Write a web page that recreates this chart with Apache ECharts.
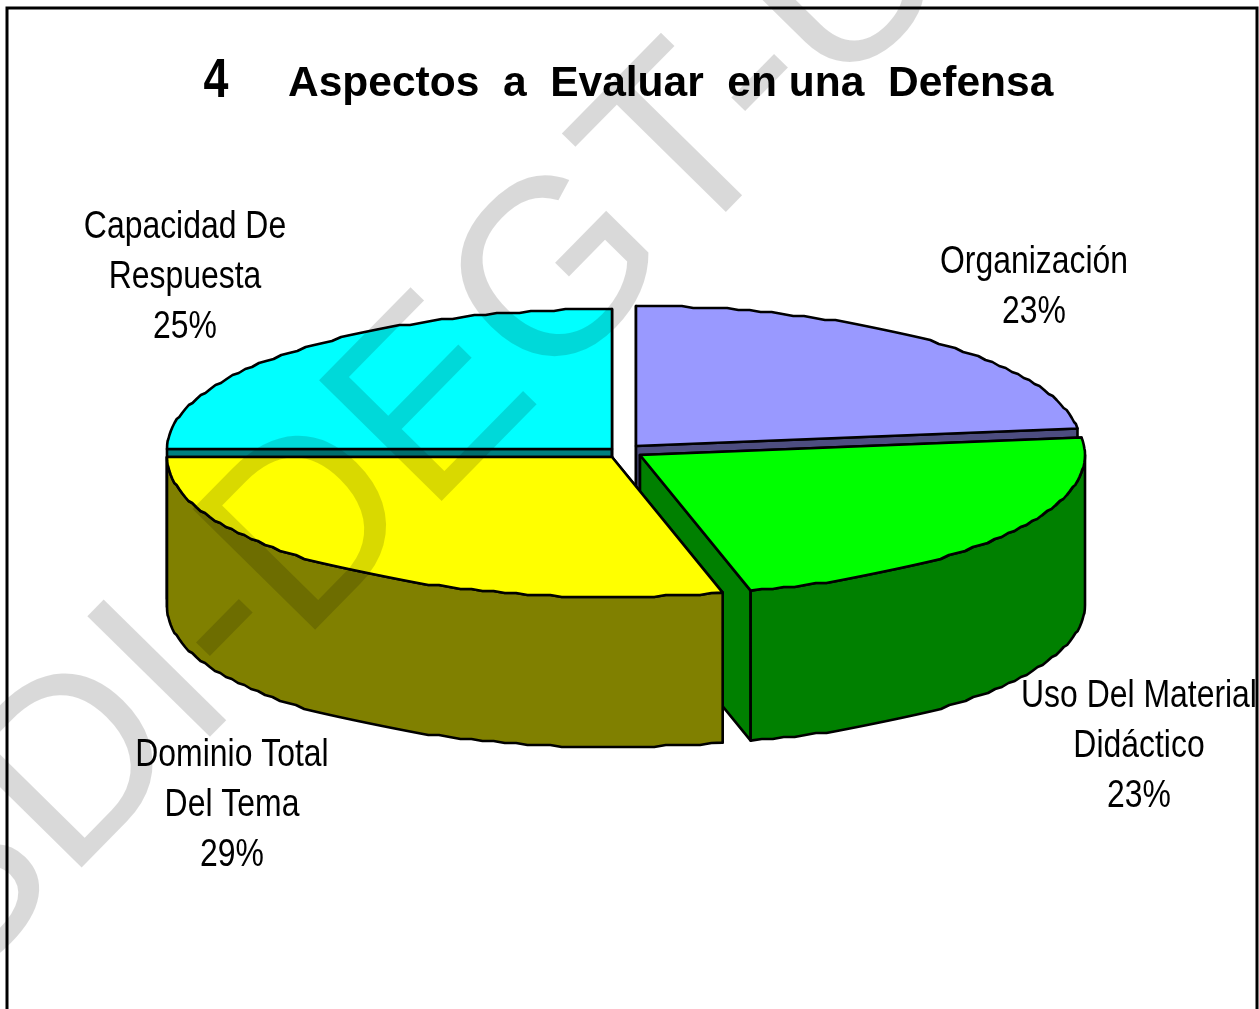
<!DOCTYPE html>
<html>
<head>
<meta charset="utf-8">
<style>html,body{margin:0;padding:0;background:#fff}#c{width:1259px;height:1009px}</style>
<script src="https://cdn.jsdelivr.net/npm/echarts@6/dist/echarts.min.js"></script>
</head>
<body>
<div id="c"></div>
<script>
// --- data ---
var categories = ['Organización', 'Uso Del Material\nDidáctico', 'Dominio Total\nDel Tema', 'Capacidad De\nRespuesta'];
var values = [23, 23, 29, 25];
var titleNumber = '4';
var titleText = 'Aspectos  a  Evaluar  en una  Defensa';
var watermarkText = 'SDI-DEGT-U';

// --- styles ---
var topColors = ['#9999ff', '#00ff00', '#ffff00', '#00ffff'];
var sideColors = ['#4d4d80', '#008000', '#808000', '#008080'];
var drawOrder = [0, 3, 1, 2];
var pieCentre = [624, 451.5], rx = 445, ry = 140, depth = 150;
var explode = [[12, -5.5], [16, 3.5], [-12, 5.5], [-12, -2.5]];
var labelAnchors = [[1034, 238], [1139, 672], [232, 731], [185, 203]];
var labelFont = '38px "Liberation Sans", Arial, sans-serif';
var labelSqueeze = 0.84;
var edgeSnap = 2;

var total = values.reduce(function (a, b) { return a + b; }, 0);
function snap(v) { return Math.round(v / edgeSnap) * edgeSnap; }
function rim(c, deg) {
  var t = deg * Math.PI / 180;
  return [c[0] + rx * Math.sin(t), c[1] - ry * Math.cos(t)];
}
function arc(c, a, b) {
  var pts = [], n = Math.max(2, Math.ceil((b - a) / 1.5));
  for (var i = 0; i <= n; i++) {
    var p = rim(c, a + (b - a) * i / n);
    pts.push(i === 0 || i === n ? p : [p[0], snap(p[1] - c[1]) + c[1]]);
  }
  return pts;
}
function down(p) { return [p[0], p[1] + depth]; }
function poly(points, fill, z2, width) {
  return {
    type: 'polygon', z2: z2, silent: true,
    shape: { points: points },
    style: { fill: fill, stroke: '#000', lineWidth: width || 2.6, lineJoin: 'round' }
  };
}

function renderItem(params, api) {
  var i = params.dataIndex;
  var sum = 0;
  for (var k = 0; k < i; k++) sum += values[k];
  var a = sum / total * 360, b = (sum + api.value(0)) / total * 360;
  var c = [pieCentre[0] + explode[i][0], pieCentre[1] + explode[i][1]];
  var base = drawOrder.indexOf(i) * 10 + 1;
  var side = sideColors[i];
  var ps = rim(c, a), pe = rim(c, b);
  var children = [
    poly([c, ps, down(ps), down(c)], side, base),
    poly([c, pe, down(pe), down(c)], side, base + 1)
  ];
  var wa = Math.max(a, 90), wb = Math.min(b, 270);
  if (wb > wa) {
    var top = arc(c, wa, wb);
    children.push(poly(top.concat(top.slice().reverse().map(down)), side, base + 2));
  }
  children.push(poly([c].concat(arc(c, a, b)), topColors[i], base + 3));
  return { type: 'group', children: children };
}

var labelGraphics = categories.map(function (name, i) {
  return {
    type: 'text', z: 60, x: labelAnchors[i][0], y: labelAnchors[i][1], scaleX: labelSqueeze, silent: true,
    style: {
      text: name + '\n' + Math.round(values[i] / total * 100) + '%',
      font: labelFont, fill: '#000', align: 'center', verticalAlign: 'top', lineHeight: 50
    }
  };
});

var chart = echarts.init(document.getElementById('c'), null, { renderer: 'canvas' });
chart.setOption({
  animation: false,
  backgroundColor: '#ffffff',
  title: {
    text: titleText, left: 283, top: 58, z: 60,
    textStyle: { fontFamily: '"Liberation Sans", Arial, sans-serif', fontWeight: 'bold', fontSize: 42.5, color: '#000' }
  },
  series: [{
    type: 'custom',
    coordinateSystem: 'none',
    renderItem: renderItem,
    data: values.map(function (v, i) { return { name: categories[i], value: [v] }; }),
    z: 2, silent: true
  }],
  graphic: [
    { type: 'rect', z: 1, silent: true, shape: { x: 7, y: 8, width: 1250, height: 1020 }, style: { fill: 'none', stroke: '#000', lineWidth: 3 } },
    {
      type: 'text', z: 50, silent: true, x: -188, y: 865, rotation: 45.5 * Math.PI / 180,
      style: { text: watermarkText, font: '250px "Liberation Sans", Arial, sans-serif', fill: 'rgba(0,0,0,0.15)', align: 'left', verticalAlign: 'top' }
    },
    {
      type: 'text', z: 60, silent: true, x: 216, y: 54, scaleX: 0.8,
      style: { text: titleNumber, font: 'bold 56px "Liberation Sans", Arial, sans-serif', fill: '#000', align: 'center', verticalAlign: 'top' }
    }
  ].concat(labelGraphics)
});
</script>
</body>
</html>
